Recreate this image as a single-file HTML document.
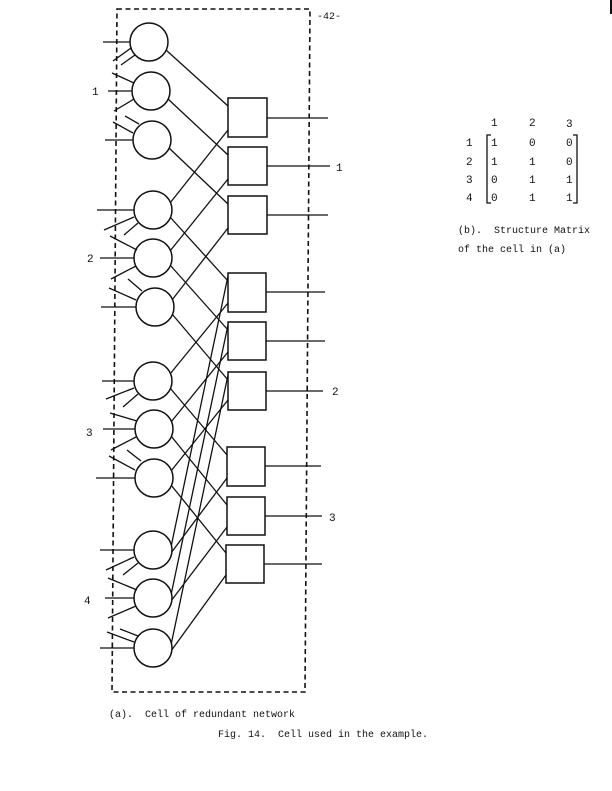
<!DOCTYPE html>
<html><head><meta charset="utf-8"><style>
html,body{margin:0;padding:0;background:#fff;}
svg{display:block;}
text{font-family:"Liberation Mono",monospace;fill:#111;}
</style></head><body>
<svg width="612" height="791" viewBox="0 0 612 791" xmlns="http://www.w3.org/2000/svg">
<g stroke="#111" stroke-width="1.3" fill="none">
<!-- dashed box -->
<path d="M117,9 L310,9 L305,692 L112,692 Z" stroke-dasharray="5,3.5" stroke-width="1.6"/>
<!-- connections -->
<g>
<line x1="166" y1="50" x2="228" y2="106"/>
<line x1="168" y1="99" x2="228" y2="155"/>
<line x1="169" y1="148" x2="228" y2="204"/>
<line x1="170" y1="203" x2="228" y2="130"/>
<line x1="170" y1="251" x2="228" y2="179"/>
<line x1="172" y1="300" x2="228" y2="228"/>
<line x1="170" y1="217" x2="228" y2="281"/>
<line x1="170" y1="265" x2="228" y2="330"/>
<line x1="172" y1="314" x2="228" y2="380"/>
<line x1="170" y1="374" x2="228" y2="303"/>
<line x1="171" y1="422" x2="228" y2="352"/>
<line x1="171" y1="471" x2="228" y2="400"/>
<line x1="170" y1="388" x2="227" y2="455"/>
<line x1="171" y1="436" x2="227" y2="505"/>
<line x1="171" y1="485" x2="226" y2="553"/>
<line x1="171" y1="547" x2="228" y2="276"/>
<line x1="171" y1="595" x2="228" y2="325"/>
<line x1="171" y1="645" x2="228" y2="375"/>
<line x1="171" y1="553" x2="227" y2="478"/>
<line x1="171" y1="601" x2="227" y2="527"/>
<line x1="171" y1="651" x2="226" y2="575"/>
</g>
<!-- squares -->
<g fill="#fff" stroke-width="1.5">
<rect x="228" y="98" width="39" height="39"/>
<rect x="228" y="147" width="39" height="38"/>
<rect x="228" y="196" width="39" height="38"/>
<rect x="228" y="273" width="38" height="39"/>
<rect x="228" y="322" width="38" height="38"/>
<rect x="228" y="372" width="38" height="38"/>
<rect x="227" y="447" width="38" height="39"/>
<rect x="227" y="497" width="38" height="38"/>
<rect x="226" y="545" width="38" height="38"/>
</g>
<!-- outputs -->
<line x1="267" y1="118" x2="328" y2="118"/>
<line x1="267" y1="166" x2="330" y2="166"/>
<line x1="267" y1="215" x2="328" y2="215"/>
<line x1="266" y1="292" x2="325" y2="292"/>
<line x1="266" y1="341" x2="325" y2="341"/>
<line x1="266" y1="391" x2="323" y2="391"/>
<line x1="265" y1="466" x2="321" y2="466"/>
<line x1="265" y1="516" x2="322" y2="516"/>
<line x1="264" y1="564" x2="322" y2="564"/>
<!-- circles -->
<g fill="#fff" stroke-width="1.5">
<ellipse cx="149" cy="42" rx="19" ry="19"/>
<ellipse cx="151" cy="91" rx="19" ry="19"/>
<ellipse cx="152" cy="140" rx="19" ry="19"/>
<ellipse cx="153" cy="210" rx="19" ry="19"/>
<ellipse cx="153" cy="258" rx="19" ry="19"/>
<ellipse cx="155" cy="307" rx="19" ry="19"/>
<ellipse cx="153" cy="381" rx="19" ry="19"/>
<ellipse cx="154" cy="429" rx="19" ry="19"/>
<ellipse cx="154" cy="478" rx="19" ry="19"/>
<ellipse cx="153" cy="550" rx="19" ry="19"/>
<ellipse cx="153" cy="598" rx="19" ry="19"/>
<ellipse cx="153" cy="648" rx="19" ry="19"/>
</g>
<!-- input stubs -->
<g>
<path d="M103,42 H130 M131,48 L113,61 M135,55 L121,65"/>
<path d="M108,91 H132 M134,83 L112,73 M134,99 L114,111"/>
<path d="M105,140 H133 M139,124 L125,116 M133,133 L113,122"/>
<path d="M97,210 H134 M134,217 L104,230 M138,223 L124,235"/>
<path d="M100,258 H134 M137,250 L110,236 M136,266 L111,279"/>
<path d="M101,307 H136 M142,291 L128,279 M136,300 L109,288"/>
<path d="M102,381 H134 M134,388 L106,399 M138,394 L123,407"/>
<path d="M103,429 H135 M137,421 L110,413 M136,437 L111,450"/>
<path d="M96,478 H135 M141,461 L127,450 M135,470 L109,456"/>
<path d="M100,550 H134 M134,557 L106,570 M138,563 L123,575"/>
<path d="M105,598 H134 M137,590 L108,578 M136,606 L108,618"/>
<path d="M100,648 H134 M138,636 L120,629 M134,642 L107,632"/>
</g>
<!-- matrix brackets -->
<path d="M491,135 H487 V203 H491"/>
<path d="M573,135 H577 V203 H573"/>
<line x1="611" y1="0" x2="611" y2="14" stroke-width="2"/>
</g>
<g font-size="11">
<text x="317" y="19" font-size="10">-42-</text>
<text x="92" y="95">1</text>
<text x="87" y="262">2</text>
<text x="86" y="436">3</text>
<text x="84" y="604">4</text>
<text x="336" y="171">1</text>
<text x="332" y="395">2</text>
<text x="329" y="521">3</text>
<text x="491" y="126">1</text><text x="529" y="126">2</text><text x="566" y="127">3</text>
<text x="466" y="146">1</text><text x="491" y="146">1</text><text x="529" y="146">0</text><text x="566" y="146">0</text>
<text x="466" y="165">2</text><text x="491" y="165">1</text><text x="529" y="165">1</text><text x="566" y="165">0</text>
<text x="466" y="183">3</text><text x="491" y="183">0</text><text x="529" y="183">1</text><text x="566" y="183">1</text>
<text x="466" y="201">4</text><text x="491" y="201">0</text><text x="529" y="201">1</text><text x="566" y="201">1</text>
</g>
<g font-size="10">
<text x="458" y="233" xml:space="preserve">(b).  Structure Matrix</text>
<text x="458" y="252">of the cell in (a)</text>
<text x="109" y="717" xml:space="preserve">(a).  Cell of redundant network</text>
<text x="218" y="737" xml:space="preserve">Fig. 14.  Cell used in the example.</text>
</g>
</svg>
</body></html>
